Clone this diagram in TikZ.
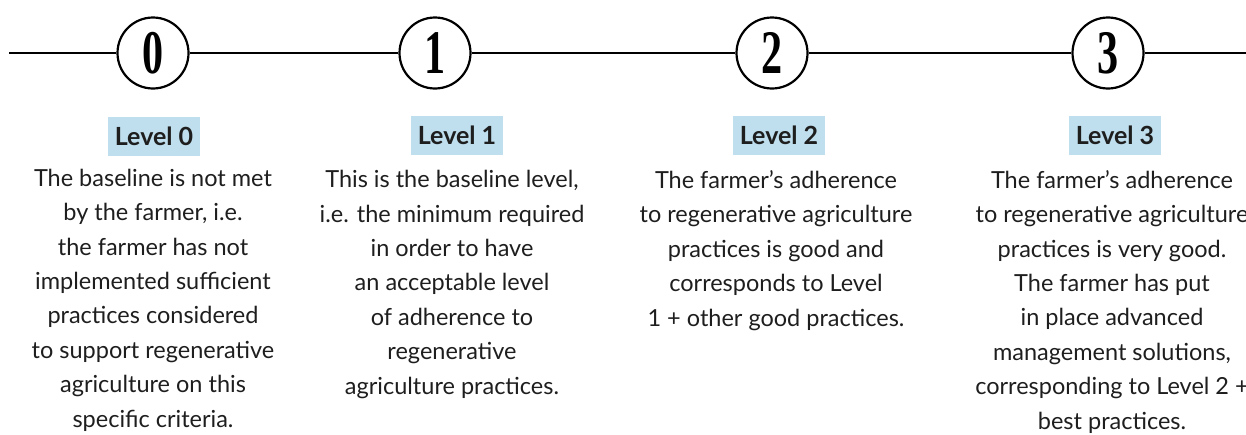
\documentclass[tikz,border=0pt]{standalone}
\usepackage{fontspec}
\usepackage{graphicx}
\setmainfont{Lato}
\newfontfamily\digitfont{Liberation Serif}
\definecolor{levelblue}{HTML}{BFDFEE}
\definecolor{bodytext}{HTML}{1E1E1E}
\begin{document}
\begin{tikzpicture}[x=1pt, y=-1pt,
    stage/.style={circle, draw, line width=2.2pt, fill=white, minimum size=71pt, inner sep=0pt,
        font=\digitfont\bfseries\fontsize{62}{62}\selectfont},
    levelbox/.style={fill=levelblue, text=bodytext, minimum height=39pt, inner xsep=6.5pt,
        font=\bfseries\fontsize{25}{28}\selectfont},
    levelnote/.style={align=center, anchor=base, text=bodytext, inner sep=0pt,
        font=\fontsize{23.5}{34.4}\selectfont}]
    \useasboundingbox (0,0) rectangle (1246,434);
    % Zeitstrahl mit den vier Stufen
    \coordinate (start) at (9,53);
    \coordinate (end) at (1250,53);
    \node[stage] (c0) at (153,53) {\scalebox{0.68}[1]{0}};
    \node[stage] (c1) at (435,53) {\scalebox{0.68}[1]{1}};
    \node[stage] (c2) at (772,53) {\scalebox{0.68}[1]{2}};
    \node[stage] (c3) at (1108,53) {\scalebox{0.68}[1]{3}};
    \draw[line width=2.2pt] (start) -- (c0) -- (c1) -- (c2) -- (c3) -- (end);
    % Ueberschriften
    \node[levelbox] (l0) at (154,136) {Level 0};
    \node[levelbox] (l1) at (457,135) {Level 1};
    \node[levelbox] (l2) at (779,135) {Level 2};
    \node[levelbox] (l3) at (1115,135) {Level 3};
    % Beschreibungen (Anker: Grundlinie der letzten Zeile)
    \node[levelnote] (t0) at (153,427) {The baseline is not met\\ by the farmer, i.e.\\ the farmer has not\\
        implemented sufficient\\ practices considered\\ to support regenerative\\ agriculture on this\\ specific criteria.};
    \node[levelnote] (t1) at (452,394) {This is the baseline level,\\ i.e. the minimum required\\ in order to have\\
        an acceptable level\\ of adherence to\\ regenerative\\ agriculture practices.};
    \node[levelnote] (t2) at (776,326) {The farmer’s adherence\\ to regenerative agriculture\\ practices is good and\\
        corresponds to Level\\ 1 + other good practices.};
    \node[levelnote] (t3) at (1112,429) {The farmer’s adherence\\ to regenerative agriculture\\ practices is very good.\\
        The farmer has put\\ in place advanced\\ management solutions,\\ corresponding to Level 2 +\\ best practices.};
\end{tikzpicture}
\end{document}
